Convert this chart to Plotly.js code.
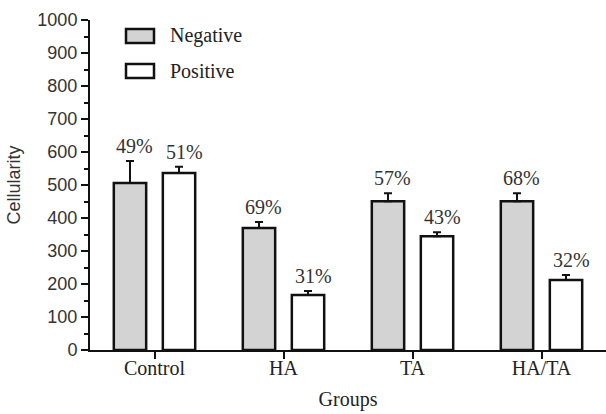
<!DOCTYPE html>
<html>
<head>
<meta charset="utf-8">
<script src="https://cdn.plot.ly/plotly-3.0.1.min.js"></script>
<style>html,body{margin:0;padding:0;background:#fff;}#chart{width:606px;height:414px;}</style>
</head>
<body>
<div id="chart"></div>
<script>
var groups = ["Control", "HA", "TA", "HA/TA"];
var negativeValues = [506, 370, 451, 451];
var negativeErrors = [67, 18, 24, 24];
var positiveValues = [536, 167, 345, 212];
var positiveErrors = [19, 12, 12, 15];
var negativePct = ["49%", "69%", "57%", "68%"];
var positivePct = ["51%", "31%", "43%", "32%"];
var yTicks = [0, 100, 200, 300, 400, 500, 600, 700, 800, 900, 1000];

var W = 606, H = 414, ML = 90, MR = 0, MT = 20, MB = 64;
var pw = W - ML - MR, ph = H - MT - MB;
function px(x) { return (x - ML) / pw; }
function py(y) { return 1 - (y - MT) / ph; }

var serif = "Liberation Serif, Times New Roman, serif";
var sans = "Liberation Sans, Arial, sans-serif";
var bargap = 0.24, bargroupgap = 0.34;
var slot = (1 - bargap) / 2;

function zeros(n) { var a = []; for (var i = 0; i < n; i++) a.push(0); return a; }

var traces = [
  {
    type: "bar", name: "Negative", x: groups, y: negativeValues,
    marker: { color: "#d3d3d3", line: { color: "#111", width: 2.5 } },
    error_y: { type: "data", symmetric: false, array: negativeErrors, arrayminus: zeros(4), color: "#111", thickness: 2, width: 4 },
    showlegend: false
  },
  {
    type: "bar", name: "Positive", x: groups, y: positiveValues,
    marker: { color: "#ffffff", line: { color: "#111", width: 2.5 } },
    error_y: { type: "data", symmetric: false, array: positiveErrors, arrayminus: zeros(4), color: "#111", thickness: 2, width: 4 },
    showlegend: false
  }
];

var annotations = [];
for (var i = 0; i < groups.length; i++) {
  annotations.push({
    x: i - slot / 2, y: negativeValues[i] + negativeErrors[i], xref: "x", yref: "y",
    text: negativePct[i], showarrow: false, yanchor: "bottom", yshift: 2, xshift: 5,
    font: { family: serif, size: 20, color: "#333" }
  });
  annotations.push({
    x: i + slot / 2, y: positiveValues[i] + positiveErrors[i], xref: "x", yref: "y",
    text: positivePct[i], showarrow: false, yanchor: "bottom", yshift: 2, xshift: 5,
    font: { family: serif, size: 20, color: "#333" }
  });
}
// legend text
annotations.push({ x: px(168), y: py(36), xref: "paper", yref: "paper", text: "Negative", showarrow: false, xanchor: "left", yanchor: "middle", font: { family: serif, size: 20, color: "#222" } });
annotations.push({ x: px(168), y: py(71), xref: "paper", yref: "paper", text: "Positive", showarrow: false, xanchor: "left", yanchor: "middle", font: { family: serif, size: 20, color: "#222" } });

var shapes = [
  { type: "rect", xref: "paper", yref: "paper", x0: px(126), x1: px(154), y0: py(29), y1: py(43), fillcolor: "#d3d3d3", line: { color: "#111", width: 2.5 } },
  { type: "rect", xref: "paper", yref: "paper", x0: px(126), x1: px(154), y0: py(64), y1: py(78), fillcolor: "#ffffff", line: { color: "#111", width: 2.5 } }
];

var layout = {
  width: W, height: H,
  margin: { l: ML, r: MR, t: MT, b: MB, pad: 0 },
  paper_bgcolor: "#fff", plot_bgcolor: "#fff",
  barmode: "group", bargap: bargap, bargroupgap: bargroupgap,
  showlegend: false,
  xaxis: {
    type: "category", range: [-0.5, 3.5], showgrid: false, zeroline: false,
    showline: true, linecolor: "#111", linewidth: 2,
    ticks: "outside", ticklen: 7, tickwidth: 2, tickcolor: "#111",
    ticklabelstandoff: -8,
    tickfont: { family: serif, size: 20, color: "#222" },
    title: { text: "Groups", font: { family: serif, size: 20, color: "#222" }, standoff: 14 },
    fixedrange: true
  },
  yaxis: {
    range: [0, 1000], tickvals: yTicks, ticktext: yTicks.map(String),
    showgrid: false, zeroline: false,
    showline: true, linecolor: "#111", linewidth: 2,
    ticks: "outside", ticklen: 7, tickwidth: 2, tickcolor: "#111",
    minor: { dtick: 50, ticks: "outside", ticklen: 4, tickwidth: 2, tickcolor: "#111", showgrid: false },
    tickfont: { family: sans, size: 18, color: "#333" },
    title: { text: "Cellularity", font: { family: sans, size: 18, color: "#333" }, standoff: 12 },
    fixedrange: true
  },
  annotations: annotations,
  shapes: shapes
};

Plotly.newPlot("chart", traces, layout, { displayModeBar: false, staticPlot: true });
</script>
</body>
</html>
